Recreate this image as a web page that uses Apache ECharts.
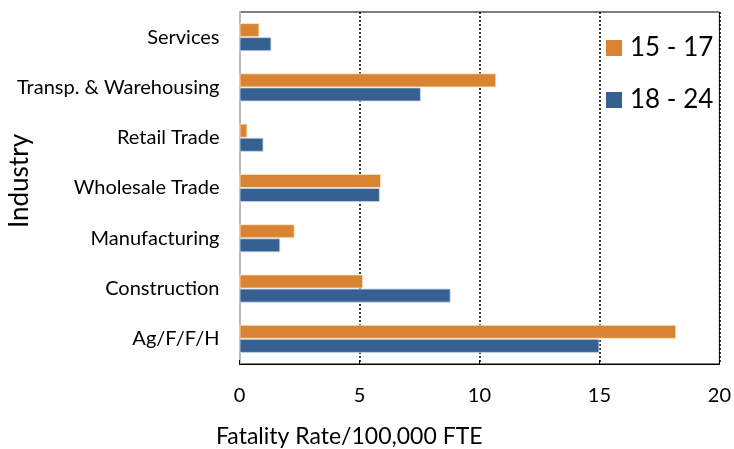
<!DOCTYPE html>
<html><head><meta charset="utf-8">
<script src="https://cdn.jsdelivr.net/npm/echarts@6/dist/echarts.min.js"></script>
<style>html,body{margin:0;padding:0;background:#fff}#c{width:734px;height:449px}</style>
</head><body><div id="c"></div>
<script>
const categories = ['Ag/F/F/H','Construction','Manufacturing','Wholesale Trade','Retail Trade','Transp. & Warehousing','Services'];
const age15to17 = [18.2, 5.15, 2.3, 5.9, 0.33, 10.7, 0.83];
const age18to24 = [15.0, 8.8, 1.7, 5.85, 1.0, 7.56, 1.33];
const xTicks = [0, 5, 10, 15, 20];
const FONT = 'Lato';
const chart = echarts.init(document.getElementById('c'));
chart.setOption({
  animation: false,
  textStyle: {fontFamily: FONT},
  grid: {left: 239.5, right: 14, top: 12, bottom: 85, show: true, borderColor: '#000', borderWidth: 1},
  legend: {
    orient: 'vertical', left: 601, top: 30, itemWidth: 16, itemHeight: 16, itemGap: 26, icon: 'rect',
    itemStyle: {borderWidth: 0},
    textStyle: {fontSize: 26, color: '#000', fontFamily: FONT, padding: [0, 0, 0, 3]},
    data: ['15 - 17', '18 - 24']
  },
  title: {text: 'Fatality Rate/100,000 FTE', left: 211, top: 420, textStyle: {fontSize: 23, fontWeight: 'normal', color: '#000', fontFamily: FONT}},
  graphic: [{type: 'text', x: 20, y: 181, rotation: Math.PI / 2,
    style: {text: 'Industry', fontSize: 26, fill: '#000', fontFamily: FONT, textAlign: 'center', textVerticalAlign: 'middle'}}],
  xAxis: {
    type: 'value', min: xTicks[0], max: xTicks[xTicks.length-1], interval: 5,
    axisLine: {show: true, lineStyle: {color: '#000'}},
    axisTick: {show: true, inside: true, length: 4, lineStyle: {color: '#000'}},
    axisLabel: {fontSize: 20, color: '#000', margin: 22, fontFamily: FONT},
    splitLine: {show: true, lineStyle: {color: '#000', type: [2, 2], width: 1.5}}
  },
  yAxis: {
    type: 'category', data: categories,
    axisLine: {show: true, lineStyle: {color: '#bbb', width: 2}},
    axisTick: {show: false},
    axisLabel: {fontSize: 20, color: '#000', margin: 20, fontFamily: FONT}
  },
  series: [
    {name: '15 - 17', type: 'bar', data: age15to17, barGap: '0%', barCategoryGap: '44%',
     itemStyle: {color: '#D88432', borderColor: 'rgba(255,230,200,0.8)', borderWidth: 1}},
    {name: '18 - 24', type: 'bar', data: age18to24, barGap: '0%', barCategoryGap: '44%',
     itemStyle: {color: '#366092', borderColor: 'rgba(200,215,235,0.8)', borderWidth: 1}}
  ]
});
</script></body></html>
